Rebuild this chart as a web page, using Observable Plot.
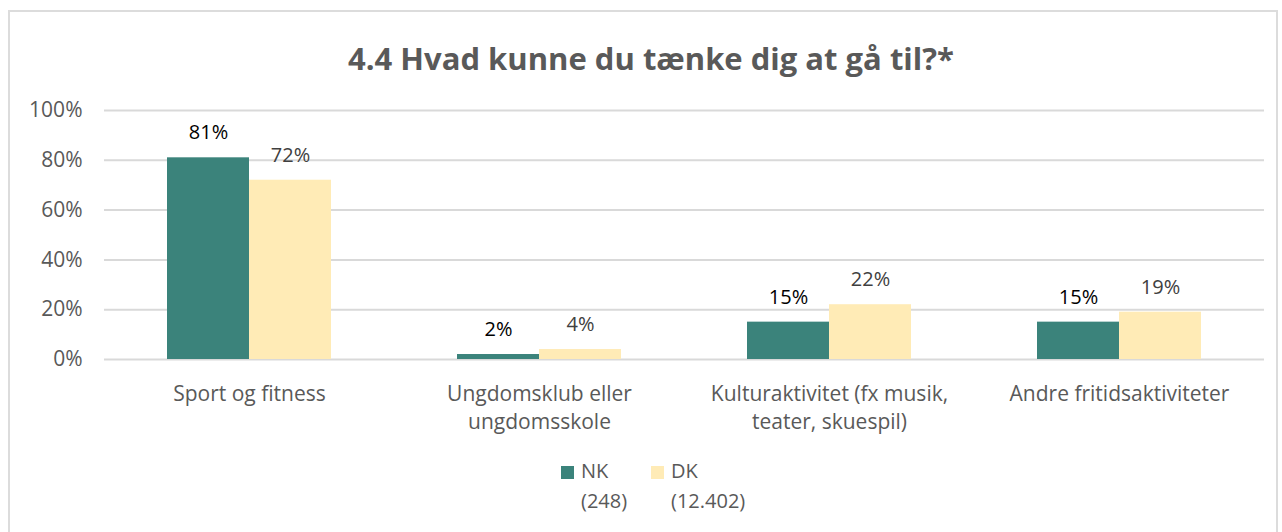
<!DOCTYPE html>
<html>
<head>
<meta charset="utf-8">
<script src="https://cdn.jsdelivr.net/npm/d3@7"></script>
<script src="https://cdn.jsdelivr.net/npm/@observablehq/plot@0.6"></script>
<style>
  html, body { margin: 0; padding: 0; background: #fff; }
  body { width: 1282px; height: 532px; position: relative; overflow: hidden; font-family: "Open Sans", sans-serif; }
  #frame { position: absolute; left: 8px; top: 10px; width: 1270px; height: 540px; border: 2px solid #dcdcdc; box-sizing: border-box; }
  #title { position: absolute; left: 0; width: 1302px; top: 38px; text-align: center; font-size: 31px; font-weight: 700; color: #595959; line-height: 40px; }
  #chart { position: absolute; left: 0; top: 80px; }
  .leg { position: absolute; font-size: 20px; color: #595959; line-height: 30px; }
  .sw { position: absolute; width: 13px; height: 13px; }
</style>
</head>
<body>
<div id="frame"></div>
<div id="title"></div>
<div id="chart"></div>
<div id="legend"></div>
<script>
const title = "4.4 Hvad kunne du tænke dig at gå til?*";
const categories = ["Sport og fitness", "Ungdomsklub eller ungdomsskole", "Kulturaktivitet (fx musik, teater, skuespil)", "Andre fritidsaktiviteter"];
const categoryTickLabels = ["Sport og fitness", "Ungdomsklub eller\nungdomsskole", "Kulturaktivitet (fx musik,\nteater, skuespil)", "Andre fritidsaktiviteter"];
const seriesNames = ["NK", "DK"];
const seriesLegend = ["(248)", "(12.402)"];
const nkValues = [0.81, 0.02, 0.15, 0.15];
const dkValues = [0.72, 0.04, 0.22, 0.19];
const seriesColors = ["#3b837b", "#ffebb6"];
const labelColors = ["#000000", "#404040"];
const yTicks = [0, 0.2, 0.4, 0.6, 0.8, 1.0];

const data = [];
categories.forEach((c, i) => {
  data.push({category: c, series: "NK", value: nkValues[i]});
  data.push({category: c, series: "DK", value: dkValues[i]});
});

document.getElementById("title").textContent = title;

const tickMap = new Map(categories.map((c, i) => [c, categoryTickLabels[i]]));

const chart = Plot.plot({
  width: 1282,
  height: 370,
  marginTop: 30,
  marginBottom: 91,
  marginLeft: 102,
  marginRight: 17,
  style: {fontFamily: "Open Sans, sans-serif", fontSize: "20px", color: "#595959", background: "transparent"},
  fx: {domain: categories, padding: 0, label: null},
  x: {domain: seriesNames, paddingInner: 0, paddingOuter: 0.752, axis: null},
  y: {domain: [0, 1], label: null},
  color: {domain: seriesNames, range: seriesColors},
  marks: [
    Plot.gridY(yTicks, {stroke: "#d9d9d9", strokeOpacity: 1, strokeWidth: 2}),
    Plot.axisY(yTicks, {tickSize: 0, tickPadding: 22, tickFormat: d3.format(".0%"), fill: "#595959", fontSize: 21, label: null}),
    Plot.axisFx({anchor: "bottom", tickSize: 0, tickPadding: 21, tickFormat: d => tickMap.get(d), fill: "#595959", fontSize: 21, lineHeight: 1.35, label: null}),
    Plot.barY(data, {fx: "category", x: "series", y: "value", fill: "series"}),
    Plot.text(data, {fx: "category", x: "series", y: "value", text: d => d3.format(".0%")(d.value), dy: -25, fontSize: 20,
      fill: d => labelColors[seriesNames.indexOf(d.series)]})
  ]
});
document.getElementById("chart").appendChild(chart);

// legend
const legend = document.getElementById("legend");
const legX = [561, 651];
seriesNames.forEach((s, i) => {
  const sw = document.createElement("div");
  sw.className = "sw";
  sw.style.left = legX[i] + "px";
  sw.style.top = "466px";
  sw.style.background = seriesColors[i];
  legend.appendChild(sw);
  const t = document.createElement("div");
  t.className = "leg";
  t.style.left = (legX[i] + 20) + "px";
  t.style.top = "456px";
  t.innerHTML = s + "<br>" + seriesLegend[i];
  legend.appendChild(t);
});
</script>
</body>
</html>
